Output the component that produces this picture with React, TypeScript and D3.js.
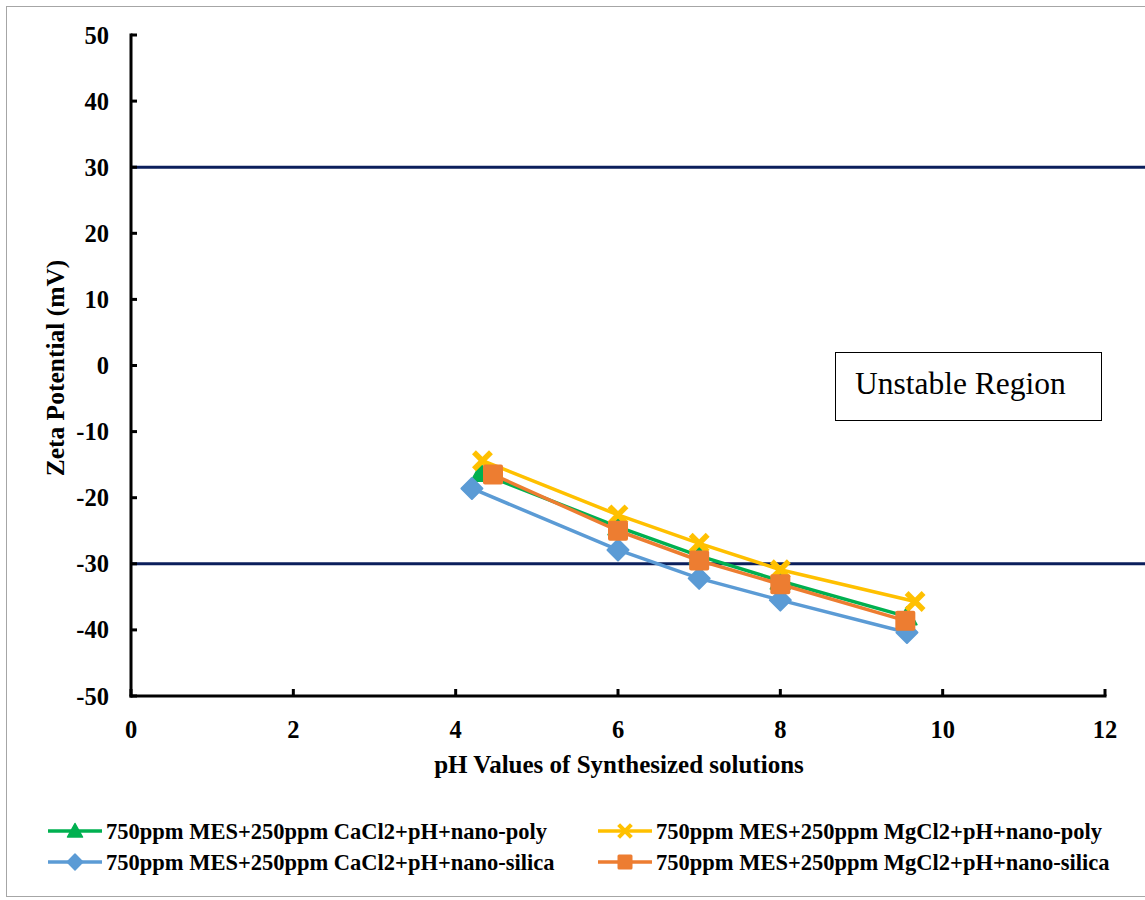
import React from "react";
import * as d3 from "d3";

const xTicks = [0, 2, 4, 6, 8, 10, 12];
const yTicks = [50, 40, 30, 20, 10, 0, -10, -20, -30, -40, -50];
const refLines = [30, -30];

const seriesNames = [
  "750ppm MES+250ppm CaCl2+pH+nano-poly",
  "750ppm MES+250ppm MgCl2+pH+nano-poly",
  "750ppm MES+250ppm CaCl2+pH+nano-silica",
  "750ppm MES+250ppm MgCl2+pH+nano-silica",
];
const seriesColors = ["#00B050", "#FFC000", "#5B9BD5", "#ED7D31"];
const seriesMarkers = ["triangle", "cross", "diamond", "square"];

const phPolyCa = [4.31, 6, 7, 8, 9.56];
const zetaPolyCa = [-16.3, -24.4, -28.8, -32.6, -38.0];
const phPolyMg = [4.33, 6, 7, 8, 9.66];
const zetaPolyMg = [-14.4, -22.6, -26.9, -30.9, -35.7];
const phSilicaCa = [4.2, 6, 7, 8, 9.56];
const zetaSilicaCa = [-18.6, -27.9, -32.2, -35.5, -40.4];
const phSilicaMg = [4.46, 6, 7, 8, 9.54];
const zetaSilicaMg = [-16.5, -25.0, -29.5, -33.1, -38.6];

const seriesX = [phPolyCa, phPolyMg, phSilicaCa, phSilicaMg];
const seriesY = [zetaPolyCa, zetaPolyMg, zetaSilicaCa, zetaSilicaMg];

const FONT = "'Liberation Serif', 'Times New Roman', serif";

function Marker({ type, x, y, color, s = 1 }: { type: string; x: number; y: number; color: string; s?: number }) {
  if (type === "square") {
    const h = 10 * s;
    return <rect x={x - h} y={y - h} width={2 * h} height={2 * h} rx={2 * s} fill={color} />;
  }
  if (type === "diamond") {
    const h = 10.5 * s;
    return (
      <path
        d={`M${x},${y - h}L${x + h},${y}L${x},${y + h}L${x - h},${y}Z`}
        fill={color}
        stroke={color}
        strokeWidth={2 * s}
        strokeLinejoin="round"
      />
    );
  }
  if (type === "triangle") {
    const h = 10 * s;
    return <path d={`M${x},${y - h}L${x + h},${y + h * 0.8}L${x - h},${y + h * 0.8}Z`} fill={color} stroke={color} strokeWidth={1.5} strokeLinejoin="round" />;
  }
  const h = 8.5 * s;
  return (
    <g stroke={color} strokeWidth={5.5 * s} strokeLinecap="butt">
      <line x1={x - h} y1={y - h} x2={x + h} y2={y + h} />
      <line x1={x - h} y1={y + h} x2={x + h} y2={y - h} />
    </g>
  );
}

export default function App() {
  const x = d3.scaleLinear().domain([0, 12]).range([131, 1105]);
  const y = d3.scaleLinear().domain([-50, 50]).range([696, 35]);
  const line = d3
    .line<[number, number]>()
    .x((d) => x(d[0]))
    .y((d) => y(d[1]));

  const legendRows = [
    { lx: 48, ly: 831 },
    { lx: 598, ly: 831 },
    { lx: 48, ly: 862 },
    { lx: 598, ly: 862 },
  ];

  return (
    <svg
      width={1145}
      height={900}
      style={{ position: "absolute", left: 0, top: 0, background: "#fff" }}
      fontFamily={FONT}
    >
      <rect x={0} y={0} width={1145} height={900} fill="#fff" />
      <rect x={6.5} y={6.5} width={1150} height={890} fill="none" stroke="#a6a6a6" strokeWidth={1} />

      {/* reference lines */}
      {refLines.map((v) => (
        <line key={v} x1={x(0)} x2={1145} y1={y(v)} y2={y(v)} stroke="#0B1F5C" strokeWidth={3} />
      ))}

      {/* axes */}
      <line x1={x(0)} x2={x(0)} y1={y(50) - 1.5} y2={y(-50) + 1.5} stroke="#000" strokeWidth={3} />
      <line x1={x(0) - 1.5} x2={x(12) + 1.5} y1={y(-50)} y2={y(-50)} stroke="#000" strokeWidth={3} />
      {yTicks.map((t) => (
        <g key={t}>
          <line x1={x(0)} x2={x(0) + 6} y1={y(t)} y2={y(t)} stroke="#000" strokeWidth={3} />
          <text x={109} y={y(t)} dy="0.35em" textAnchor="end" fontSize={24.5} fontWeight="bold">
            {t}
          </text>
        </g>
      ))}
      {xTicks.map((t) => (
        <g key={t}>
          <line x1={x(t)} x2={x(t)} y1={y(-50)} y2={y(-50) - 7} stroke="#000" strokeWidth={3} />
          <text x={x(t)} y={738} textAnchor="middle" fontSize={24.5} fontWeight="bold">
            {t}
          </text>
        </g>
      ))}

      <text x={619} y={773} textAnchor="middle" fontSize={25} fontWeight="bold">
        pH Values of Synthesized solutions
      </text>
      <text transform={`translate(64,368) rotate(-90)`} textAnchor="middle" fontSize={25.5} fontWeight="bold">
        Zeta Potential (mV)
      </text>

      {/* unstable region box */}
      <rect x={835.5} y={352.5} width={266} height={68} fill="#fff" stroke="#000" strokeWidth={1} />
      <text x={855} y={394} fontSize={31.5}>
        Unstable Region
      </text>

      {/* series */}
      {seriesNames.map((name, i) => {
        const pts: [number, number][] = seriesX[i].map((v, j) => [v, seriesY[i][j]]);
        return (
          <g key={name}>
            <path d={line(pts) || ""} fill="none" stroke={seriesColors[i]} strokeWidth={3.5} strokeLinejoin="round" />
            {pts.map((p, j) => (
              <Marker key={j} type={seriesMarkers[i]} x={x(p[0])} y={y(p[1])} color={seriesColors[i]} />
            ))}
          </g>
        );
      })}

      {/* legend */}
      {seriesNames.map((name, i) => {
        const { lx, ly } = legendRows[i];
        return (
          <g key={name}>
            <line x1={lx} x2={lx + 54} y1={ly} y2={ly} stroke={seriesColors[i]} strokeWidth={3.5} />
            <Marker type={seriesMarkers[i]} x={lx + 27} y={ly} color={seriesColors[i]} s={0.75} />
            <text x={lx + 58} y={ly} dy="0.35em" fontSize={22.5} fontWeight="bold">
              {name}
            </text>
          </g>
        );
      })}
    </svg>
  );
}
